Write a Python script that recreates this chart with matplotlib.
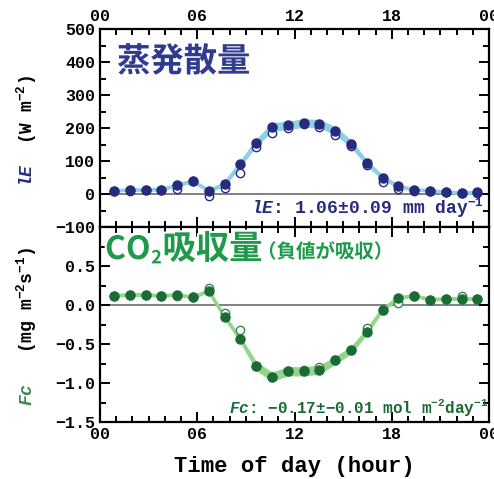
import matplotlib
matplotlib.use('Agg')
import matplotlib.pyplot as plt
import matplotlib.patheffects as pe
from matplotlib.ticker import MultipleLocator, FixedLocator

plt.rcParams['mathtext.fontset'] = 'custom'
plt.rcParams['mathtext.rm'] = 'Liberation Mono:bold'
plt.rcParams['mathtext.it'] = 'Liberation Mono:italic:bold'
plt.rcParams['mathtext.bf'] = 'Liberation Mono:bold'

# hour of each point
hours = [0.86, 1.84, 2.81, 3.79, 4.76, 5.74, 6.71, 7.69, 8.66, 9.64, 10.61, 11.59,
         12.56, 13.54, 14.51, 15.49, 16.46, 17.44, 18.41, 19.39, 20.36, 21.34, 22.31, 23.29]

# latent heat flux lE (W m-2)
le_filled = [10, 12, 13, 13, 27, 39, 10, 30, 91, 155, 203, 208,
             215, 213, 192, 153, 94, 50, 23, 13, 10, 6, 3, 5]
le_open = [8, 10, 11, 11, 15, 38, -7, 17, 65, 141, 185, 200,
           213, 204, 179, 144, 89, 37, 15, 10, 8, 5, 2, 4]
le_err = [2, 2, 2, 2, 4, 4, 5, 6, 8, 12, 10, 10,
          10, 10, 10, 10, 8, 6, 4, 2, 2, 2, 2, 2]
le_band = [4, 4, 4, 4, 5, 6, 5, 7, 9, 12, 13, 13,
           13, 13, 13, 12, 10, 8, 6, 4, 4, 4, 4, 4]

# CO2 flux Fc (mg m-2 s-1)
fc_filled = [0.12, 0.13, 0.13, 0.12, 0.13, 0.10, 0.18, -0.15, -0.44, -0.78, -0.92, -0.85,
             -0.85, -0.83, -0.71, -0.58, -0.34, -0.06, 0.09, 0.12, 0.07, 0.08, 0.08, 0.08]
fc_open = [0.12, 0.13, 0.13, 0.12, 0.11, 0.10, 0.22, -0.10, -0.32, -0.78, -0.92, -0.85,
           -0.83, -0.79, -0.71, -0.58, -0.30, -0.06, 0.02, 0.12, 0.07, 0.08, 0.11, 0.08]
fc_err = [0.01, 0.01, 0.01, 0.01, 0.01, 0.01, 0.03, 0.03, 0.04, 0.03, 0.03, 0.03,
          0.03, 0.03, 0.03, 0.03, 0.03, 0.02, 0.02, 0.01, 0.01, 0.01, 0.02, 0.01]
fc_band = [0.02, 0.02, 0.02, 0.02, 0.02, 0.02, 0.02, 0.03, 0.04, 0.06, 0.06, 0.06,
           0.06, 0.06, 0.05, 0.05, 0.04, 0.03, 0.02, 0.02, 0.02, 0.02, 0.02, 0.02]

xtick_pos = [0, 6, 12, 18, 24]
xtick_labels = ['00', '06', '12', '18', '00']

W, H = 494, 479
navy = '#262b7e'
navy_band = '#8fd0e3'
green = '#1b6b34'
green_band = '#93d68b'
mono = dict(family='Liberation Mono', weight='bold')
tick_font = dict(family='Liberation Mono', weight='bold', size=12)


def px(x, y):
    return x / W, 1 - y / H


fig = plt.figure(figsize=(W / 100, H / 100), dpi=100)
ax1 = fig.add_axes([100 / W, 1 - 227 / H, 389 / W, 198 / H])
ax2 = fig.add_axes([100 / W, 1 - 422 / H, 389 / W, 195 / H])


def style(ax):
    for s in ax.spines.values():
        s.set_linewidth(1.6)
    ax.set_xlim(0, 24)
    ax.xaxis.set_major_locator(FixedLocator(xtick_pos))
    ax.xaxis.set_minor_locator(MultipleLocator(1))
    ax.tick_params(which='both', direction='in', top=True, right=True, width=1.4)
    ax.tick_params(which='major', length=7)
    ax.tick_params(which='minor', length=4)
    ax.axhline(0, color='#777777', lw=1.3, zorder=1)


# top panel
style(ax1)
ax1.set_ylim(-100, 500)
ax1.yaxis.set_major_locator(MultipleLocator(100))
ax1.yaxis.set_minor_locator(MultipleLocator(50))
ax1.tick_params(labelbottom=False, labeltop=True)
ax1.set_xticklabels(xtick_labels, fontdict=tick_font)
ax1.set_yticks([-100, 0, 100, 200, 300, 400, 500])
ax1.set_yticklabels(['\u2212100', '0', '100', '200', '300', '400', '500'], fontdict=tick_font)
lo = [v - b for v, b in zip(le_filled, le_band)]
hi = [v + b for v, b in zip(le_filled, le_band)]
ax1.fill_between(hours, lo, hi, color=navy_band, lw=0, zorder=2)
ax1.plot(hours, le_filled, color=navy_band, lw=2.5, zorder=2)
ax1.errorbar(hours, le_open, yerr=le_err, fmt='o', ms=6, mfc='white', mec=navy,
             mew=1.0, ecolor=navy, elinewidth=0.9, capsize=0, zorder=3)
ax1.plot(hours, le_filled, 'o', ms=6.5, color=navy, zorder=4)

# bottom panel
style(ax2)
ax2.set_ylim(-1.5, 1.0)
ax2.yaxis.set_major_locator(MultipleLocator(0.5))
ax2.yaxis.set_minor_locator(MultipleLocator(0.25))
ax2.set_xticklabels(xtick_labels, fontdict=tick_font)
ax2.set_yticks([-1.5, -1.0, -0.5, 0.0, 0.5])
ax2.set_yticklabels(['\u22121.5', '\u22121.0', '\u22120.5', '0.0', '0.5'], fontdict=tick_font)
lo = [v - b for v, b in zip(fc_filled, fc_band)]
hi = [v + b for v, b in zip(fc_filled, fc_band)]
ax2.fill_between(hours, lo, hi, color=green_band, lw=0, zorder=2)
ax2.plot(hours, fc_filled, color=green_band, lw=2.5, zorder=2)
ax2.errorbar(hours, fc_open, yerr=fc_err, fmt='o', ms=6, mfc='white', mec='#3a8a4a',
             mew=1.0, ecolor='#3a8a4a', elinewidth=0.9, capsize=0, zorder=3)
ax2.plot(hours, fc_filled, 'o', ms=6.5, color=green, zorder=4)

ax2.set_xlabel('Time of day (hour)', size=16, labelpad=10, **mono)

# y labels (two colours)
fig.text(*px(27, 175), r'$\mathit{lE}$', rotation=90, color=navy, size=13,
         ha='center', va='center', **mono)
fig.text(*px(27, 110), r'(W m$^{-2}$)', rotation=90, color='black', size=13,
         ha='center', va='center', **mono)
fig.text(*px(27, 395), r'$\mathit{Fc}$', rotation=90, color='#3a8a4a', size=13,
         ha='center', va='center', **mono)
fig.text(*px(27, 300), r'(mg m$^{-2}$s$^{-1}$)', rotation=90, color='black', size=13,
         ha='center', va='center', **mono)

# summary annotations
fig.text(*px(484, 208), r'$\mathit{lE}$: 1.06$\pm$0.09 mm day$^{-1}$', color=navy,
         size=13, ha='right', va='center', **mono)
fig.text(*px(488, 407), r'$\mathit{Fc}$: $-$0.17$\pm$$-$0.01 mol m$^{-2}$day$^{-1}$',
         color=green, size=11.5, ha='right', va='center', **mono)

# Japanese titles
shadow = [pe.withStroke(linewidth=3, foreground='white')]
jp = ['Noto Sans CJK JP', 'DejaVu Sans']
fig.text(*px(117, 62), '蒸発散量', family=jp, weight='bold', size=24, color='#2f3b8e',
         ha='left', va='center', path_effects=shadow)

tgreen = '#1f9a4a'
t1 = fig.text(*px(105, 266), 'CO', family=jp, weight='bold', size=23, color=tgreen,
              ha='left', va='bottom', path_effects=shadow)
t2 = ax2.annotate('2', xy=(1, 0), xycoords=t1, xytext=(0.5, -1), textcoords='offset points',
                  family=jp, weight='bold', size=13, color=tgreen, ha='left', va='bottom',
                  path_effects=shadow, annotation_clip=False)
t3 = ax2.annotate('吸収量', xy=(1, 0), xycoords=(t2, t1), xytext=(0.5, 0),
                  textcoords='offset points', family=jp, weight='bold', size=24,
                  color=tgreen, ha='left', va='bottom', path_effects=shadow,
                  annotation_clip=False)
ax2.annotate('（負値が吸収）', xy=(1, 0), xycoords=t3, xytext=(-4, 3),
             textcoords='offset points', family=jp, weight='bold', size=14,
             color=tgreen, ha='left', va='bottom', path_effects=shadow,
             annotation_clip=False)

fig.savefig('out.png', dpi=100)
